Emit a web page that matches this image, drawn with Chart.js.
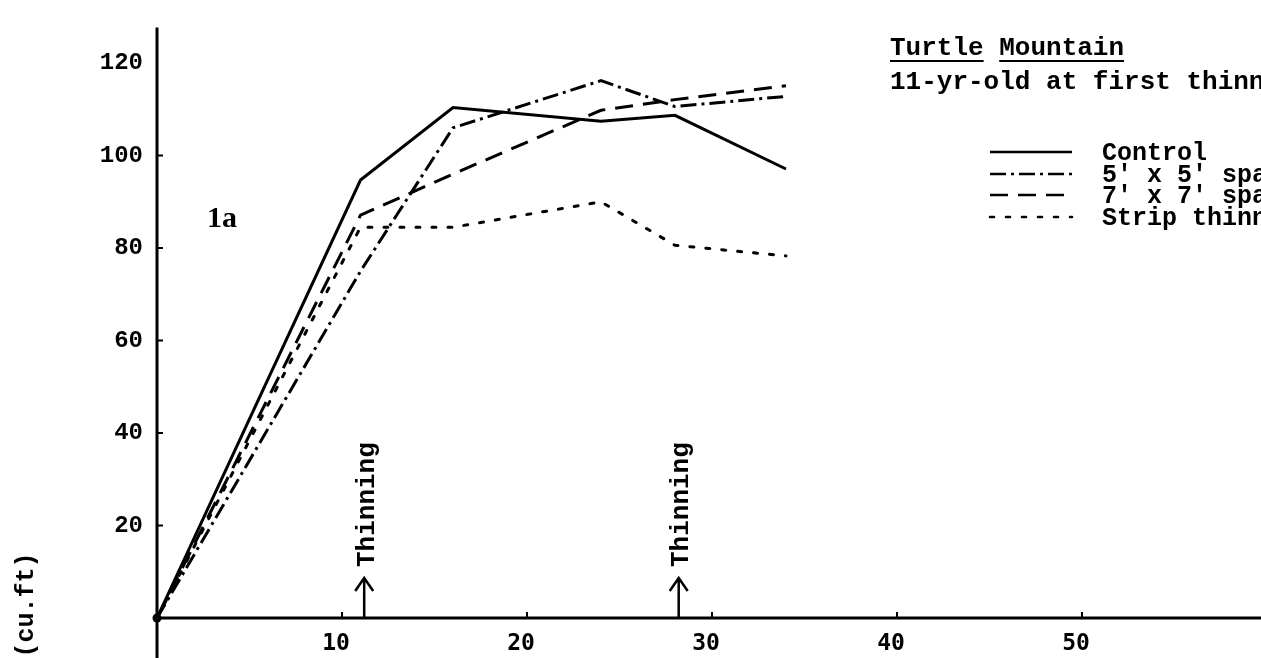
<!DOCTYPE html>
<html>
<head>
<meta charset="utf-8">
<script src="https://cdn.jsdelivr.net/npm/chart.js@4.4.1/dist/chart.umd.min.js"></script>
<style>
  html, body { margin: 0; padding: 0; background: #fff; overflow: hidden; }
  #wrap { width: 1261px; height: 658px; overflow: hidden; }
  canvas { display: block; }
</style>
</head>
<body>
<div id="wrap"><canvas id="c" width="1270" height="658"></canvas></div>
<script>
// ---- data ----
const ages        = [0, 11, 16, 24, 28, 34];            // stand age (yr)
const control     = [0, 94.7, 110.4, 107.4, 108.7, 97.1];
const spacing5    = [0, 75, 106, 116.2, 110.6, 112.8];
const spacing7    = [0, 87.1, 96, 109.8, 112.1, 115.1];
const stripThin   = [0, 84.5, 84.5, 90.0, 80.6, 78.3];
const seriesNames = ["Control", "5' x 5' spacing", "7' x 7' spacing", "Strip thinning"];
const xTickValues = [10, 20, 30, 40, 50];
const yTickValues = [20, 40, 60, 80, 100, 120];
const thinningAges = [11.2, 28.2];
const titleText = "Turtle Mountain";
const subtitleText = "11-yr-old at first thinning";
const panelLabel = "1a";
const yUnitText = "(cu.ft)";
const thinningText = "Thinning";

const pts = vals => ages.map((a, i) => ({ x: a, y: vals[i] }));

const TYPE = '"Liberation Mono", "DejaVu Sans Mono", monospace';

const styles = [
  { borderDash: [], cap: 'butt' },
  { borderDash: [16, 5, 3, 5], cap: 'butt' },
  { borderDash: [18, 10], cap: 'butt' },
  { borderDash: [4, 12], cap: 'round' }
];
const allSeries = [control, spacing5, spacing7, stripThin];

const datasets = allSeries.map((vals, i) => ({
  label: seriesNames[i],
  data: pts(vals),
  borderColor: '#000',
  backgroundColor: '#000',
  borderWidth: 3,
  borderDash: styles[i].borderDash,
  borderCapStyle: styles[i].cap,
  pointRadius: 0,
  tension: 0,
  fill: false
}));

const overlay = {
  id: 'overlay',
  afterDraw(chart) {
    const { ctx, chartArea: ca } = chart;
    const xs = chart.scales.x, ys = chart.scales.y;
    const W = chart.width, H = chart.height;
    ctx.save();
    ctx.strokeStyle = '#000';
    ctx.fillStyle = '#000';
    ctx.setLineDash([]);

    // axes lines
    ctx.lineWidth = 3;
    ctx.beginPath();
    ctx.moveTo(ca.left, ca.top - 1);
    ctx.lineTo(ca.left, H);
    ctx.moveTo(ca.left, ca.bottom);
    ctx.lineTo(W, ca.bottom);
    ctx.stroke();

    // inner tick marks
    ctx.lineWidth = 2;
    ctx.beginPath();
    yTickValues.forEach(v => {
      if (v >= 120) return;
      const py = ys.getPixelForValue(v);
      ctx.moveTo(ca.left, py);
      ctx.lineTo(ca.left + 6, py);
    });
    xTickValues.forEach(v => {
      const px = xs.getPixelForValue(v);
      ctx.moveTo(px, ca.bottom);
      ctx.lineTo(px, ca.bottom - 6);
    });
    ctx.stroke();

    // origin dot
    ctx.beginPath();
    ctx.arc(xs.getPixelForValue(0), ys.getPixelForValue(0), 4.5, 0, Math.PI * 2);
    ctx.fill();

    // thinning arrows + labels
    thinningAges.forEach(a => {
      const px = xs.getPixelForValue(a);
      const base = ca.bottom;
      ctx.lineWidth = 2.5;
      ctx.beginPath();
      ctx.moveTo(px, base);
      ctx.lineTo(px, base - 40);
      ctx.moveTo(px - 9, base - 27);
      ctx.lineTo(px, base - 40);
      ctx.lineTo(px + 9, base - 27);
      ctx.stroke();
      ctx.save();
      ctx.translate(px + 3, base - 51);
      ctx.rotate(-Math.PI / 2);
      ctx.font = 'bold 26px ' + TYPE;
      ctx.textAlign = 'left';
      ctx.textBaseline = 'middle';
      ctx.fillText(thinningText, 0, 0);
      ctx.restore();
    });

    // panel label
    ctx.font = 'bold 30px "Liberation Serif", "DejaVu Serif", serif';
    ctx.textAlign = 'left';
    ctx.textBaseline = 'alphabetic';
    ctx.fillText(panelLabel, 207, 227);

    // unit label (rotated)
    ctx.save();
    ctx.translate(33, 605);
    ctx.rotate(-Math.PI / 2);
    ctx.font = 'bold 25px ' + TYPE;
    ctx.textAlign = 'center';
    ctx.textBaseline = 'alphabetic';
    ctx.fillText(yUnitText, 0, 0);
    ctx.restore();

    // title block
    ctx.font = 'bold 26px ' + TYPE;
    ctx.textAlign = 'left';
    ctx.textBaseline = 'alphabetic';
    const tx = 890;
    ctx.fillText(titleText, tx, 55);
    const words = titleText.split(' ');
    let cx = tx;
    ctx.lineWidth = 2;
    ctx.beginPath();
    words.forEach(w => {
      const ww = ctx.measureText(w).width;
      ctx.moveTo(cx, 61);
      ctx.lineTo(cx + ww, 61);
      cx += ww + ctx.measureText(' ').width;
    });
    ctx.stroke();
    ctx.fillText(subtitleText, tx, 89);

    // legend
    ctx.font = 'bold 25px ' + TYPE;
    const rows = [160, 182, 203, 225];
    chart.data.datasets.forEach((ds, i) => {
      const ly = rows[i] - 8;
      ctx.save();
      ctx.lineWidth = 2.5;
      ctx.setLineDash(ds.borderDash || []);
      ctx.lineCap = ds.borderCapStyle || 'butt';
      ctx.beginPath();
      ctx.moveTo(990, ly);
      ctx.lineTo(1072, ly);
      ctx.stroke();
      ctx.restore();
      ctx.fillText(ds.label, 1102, rows[i]);
    });

    ctx.restore();
  }
};

new Chart(document.getElementById('c'), {
  type: 'line',
  data: { datasets },
  options: {
    responsive: false,
    animation: false,
    devicePixelRatio: 1,
    layout: { padding: { top: 23, right: 3, left: 0, bottom: 0 } },
    plugins: { legend: { display: false }, tooltip: { enabled: false }, title: { display: false } },
    scales: {
      x: {
        type: 'linear',
        min: 0, max: 60,
        afterBuildTicks: s => { s.ticks = xTickValues.map(v => ({ value: v })); },
        afterFit: s => { s.height = 40; },
        grid: { display: false, drawTicks: false },
        border: { display: false },
        ticks: {
          color: '#000',
          padding: 12,
          labelOffset: -6,
          maxRotation: 0,
          autoSkip: false,
          font: { family: '"DejaVu Sans Mono", monospace', weight: 'bold', size: 23 }
        }
      },
      y: {
        type: 'linear',
        min: 0, max: 127.5,
        afterBuildTicks: s => { s.ticks = yTickValues.map(v => ({ value: v })); },
        afterFit: s => { s.width = 157; },
        grid: { display: false, drawTicks: false },
        border: { display: false },
        ticks: {
          color: '#000',
          padding: 14,
          autoSkip: false,
          font: { family: TYPE, weight: 'bold', size: 24 }
        }
      }
    }
  },
  plugins: [overlay]
});
</script>
</body>
</html>
